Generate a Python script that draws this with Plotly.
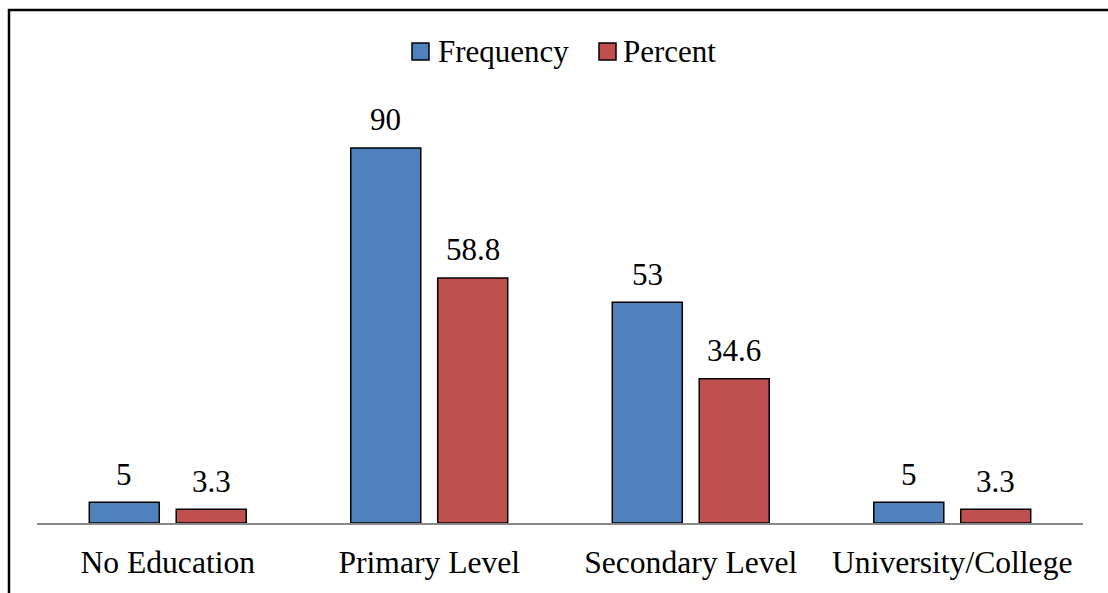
import plotly.graph_objects as go

# Education level of respondents
categories = ["No Education", "Primary Level", "Secondary Level", "University/College"]
frequency = [5, 90, 53, 5]
percent = [3.3, 58.8, 34.6, 3.3]
series_names = ["Frequency", "Percent"]
series_colors = ["#4F81BD", "#C0504D"]

W, H = 1108, 593
L, R, T, B = 37, 25, 60, 70
PW, PH = W - L - R, H - T - B
FONT = "Liberation Serif"
FS = 31
TICK_FS = 31.6
BARGAP = 0.335
BARGROUPGAP = 0.195
Y_MAX = (H - T - B) / 4.167


def px_to_paper_x(px):
    return (px - L) / PW


def px_to_paper_y(py):
    return (H - B - py) / PH


fig = go.Figure()
all_series = [frequency, percent]
for name, vals, color in zip(series_names, all_series, series_colors):
    fig.add_trace(go.Bar(
        x=categories, y=vals, name=name,
        marker=dict(color=color, line=dict(color="black", width=1.5)),
        showlegend=False,
    ))

# value labels above each bar, centred on its slot within the group
slot = (1 - BARGAP) / len(all_series)
annotations = []
for s, vals in enumerate(all_series):
    offset = -(1 - BARGAP) / 2 + slot * (s + 0.5)
    for i, v in enumerate(vals):
        annotations.append(dict(
            x=i + offset, y=v, xref="x", yref="y",
            text=f"{v:g}", showarrow=False,
            yanchor="middle", yshift=28,
            font=dict(family=FONT, size=FS, color="black"),
        ))

# legend: coloured squares followed by series names
legend_items = [(412, 436), (599, 621)]
shapes = []
for (sq_x, txt_x), name, color in zip(legend_items, series_names, series_colors):
    shapes.append(dict(
        type="rect", xref="paper", yref="paper",
        x0=px_to_paper_x(sq_x), x1=px_to_paper_x(sq_x + 17),
        y0=px_to_paper_y(60), y1=px_to_paper_y(43),
        fillcolor=color, line=dict(color="black", width=1.5),
    ))
    annotations.append(dict(
        x=px_to_paper_x(txt_x), y=px_to_paper_y(52), xref="paper", yref="paper",
        text=name, showarrow=False, xanchor="left", yanchor="middle",
        font=dict(family=FONT, size=FS, color="black"),
    ))

# outer chart frame
shapes.append(dict(
    type="rect", xref="paper", yref="paper",
    x0=px_to_paper_x(9), x1=px_to_paper_x(W + 20),
    y0=px_to_paper_y(H + 20), y1=px_to_paper_y(10),
    line=dict(color="black", width=2.5), fillcolor="rgba(0,0,0,0)",
))

fig.update_layout(
    width=W, height=H,
    margin=dict(l=L, r=R, t=T, b=B),
    paper_bgcolor="white", plot_bgcolor="white",
    barmode="group", bargap=BARGAP, bargroupgap=BARGROUPGAP,
    font=dict(family=FONT, size=FS, color="black"),
    annotations=annotations, shapes=shapes,
    xaxis=dict(
        showline=True, linecolor="#898989", linewidth=2,
        ticks="", showgrid=False, ticklabelstandoff=10,
        tickfont=dict(family=FONT, size=TICK_FS, color="black"),
    ),
    yaxis=dict(range=[0, Y_MAX], visible=False, showgrid=False, zeroline=False),
)

fig.write_html("out.html")
